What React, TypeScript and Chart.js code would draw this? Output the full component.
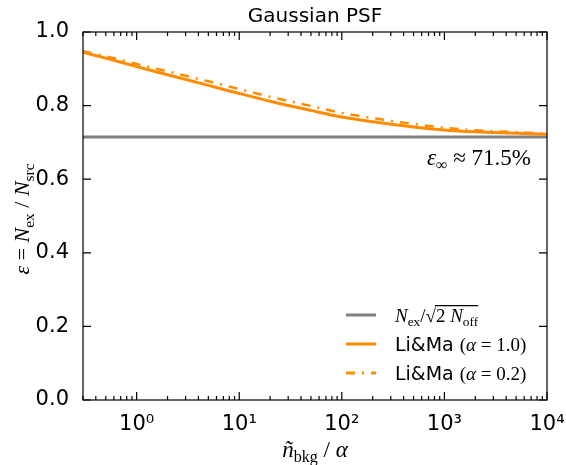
import React, { useEffect, useRef } from "react";
import { Chart, ChartConfiguration, Plugin, registerables } from "chart.js";
Chart.register(...registerables);

// n_bkg / alpha sample points and the two Li&Ma efficiency curves
const bkgRatio = [0.3, 0.5, 1, 2, 5, 10, 20, 50, 100, 200, 500, 1000, 2000, 5000, 10000];
const liMaAlpha10 = [0.945, 0.929, 0.906, 0.884, 0.855, 0.833, 0.812, 0.787, 0.769, 0.756, 0.742, 0.734, 0.729, 0.725, 0.722];
const liMaAlpha02 = [0.948, 0.934, 0.913, 0.893, 0.866, 0.845, 0.824, 0.799, 0.780, 0.766, 0.750, 0.740, 0.733, 0.728, 0.724];
// asymptotic N_ex / sqrt(2 N_off) level
const asymptoteX = [0.3, 10000];
const asymptoteY = [0.715, 0.715];

const yTicks = [0, 0.2, 0.4, 0.6, 0.8, 1.0];
const xDecades = [1, 10, 100, 1000, 10000];
const xDecadeLabels = ["10⁰", "10¹", "10²", "10³", "10⁴"];

const ORANGE = "#ff8c00";
const GRAY = "#808080";
const SERIF = '"Liberation Serif", serif';
const SANS = '"DejaVu Sans", sans-serif';

type Seg = { t: string; it?: boolean; sub?: boolean; sans?: boolean; over?: boolean };

function drawRich(
  ctx: CanvasRenderingContext2D,
  segs: Seg[],
  x: number,
  y: number,
  size: number,
  align: "left" | "center" | "right"
) {
  const fontOf = (s: Seg) =>
    `${s.it ? "italic " : ""}${s.sub ? size * 0.7 : size}px ${s.sans ? SANS : SERIF}`;
  let total = 0;
  const widths = segs.map((s) => {
    ctx.font = fontOf(s);
    const w = ctx.measureText(s.t).width;
    total += w;
    return w;
  });
  let cx = align === "left" ? x : align === "center" ? x - total / 2 : x - total;
  let overStart: number | null = null;
  let overEnd = 0;
  ctx.textBaseline = "alphabetic";
  ctx.textAlign = "left";
  segs.forEach((s, i) => {
    ctx.font = fontOf(s);
    ctx.fillText(s.t, cx, y + (s.sub ? size * 0.22 : 0));
    if (s.over) {
      if (overStart === null) overStart = cx;
      overEnd = cx + widths[i];
    }
    cx += widths[i];
  });
  if (overStart !== null) {
    ctx.save();
    ctx.lineWidth = 1.2;
    ctx.beginPath();
    ctx.moveTo(overStart - 1, y - size * 0.86);
    ctx.lineTo(overEnd, y - size * 0.86);
    ctx.stroke();
    ctx.restore();
  }
}

const legendEntries: { segs: Seg[]; color: string; dash: number[] }[] = [
  {
    segs: [
      { t: "N", it: true },
      { t: "ex", sub: true },
      { t: "/" },
      { t: "√" },
      { t: "2 ", over: true },
      { t: "N", it: true, over: true },
      { t: "off", sub: true, over: true },
    ],
    color: GRAY,
    dash: [],
  },
  {
    segs: [{ t: "Li&Ma ", sans: true }, { t: "(" }, { t: "α", it: true }, { t: " = 1.0)" }],
    color: ORANGE,
    dash: [],
  },
  {
    segs: [{ t: "Li&Ma ", sans: true }, { t: "(" }, { t: "α", it: true }, { t: " = 0.2)" }],
    color: ORANGE,
    dash: [9, 7, 2, 7],
  },
];

const decorations: Plugin = {
  id: "decorations",
  afterDraw(chart) {
    const { ctx, chartArea: a } = chart;
    const xs = chart.scales.x;
    const ys = chart.scales.y;
    ctx.save();
    ctx.strokeStyle = "#000";
    ctx.fillStyle = "#000";
    ctx.lineWidth = 1.2;
    ctx.strokeRect(a.left, a.top, a.right - a.left, a.bottom - a.top);

    // inward ticks on all four sides
    ctx.beginPath();
    xs.ticks.forEach((t) => {
      const px = xs.getPixelForValue(t.value);
      const major = Math.abs(Math.log10(t.value) - Math.round(Math.log10(t.value))) < 1e-9;
      const len = major ? 8 : 4;
      ctx.moveTo(px, a.bottom);
      ctx.lineTo(px, a.bottom - len);
      ctx.moveTo(px, a.top);
      ctx.lineTo(px, a.top + len);
    });
    ys.ticks.forEach((t) => {
      const py = ys.getPixelForValue(t.value);
      ctx.moveTo(a.left, py);
      ctx.lineTo(a.left + 8, py);
      ctx.moveTo(a.right, py);
      ctx.lineTo(a.right - 8, py);
    });
    ctx.stroke();

    // title
    ctx.font = `20px ${SANS}`;
    ctx.textAlign = "center";
    ctx.textBaseline = "alphabetic";
    ctx.fillText("Gaussian PSF", (a.left + a.right) / 2, 22);

    // axis titles
    ctx.save();
    ctx.translate(22, (a.top + a.bottom) / 2 + 3);
    ctx.rotate(-Math.PI / 2);
    drawRich(
      ctx,
      [
        { t: "ε", it: true },
        { t: " = " },
        { t: "N", it: true },
        { t: "ex", sub: true },
        { t: " / " },
        { t: "N", it: true },
        { t: "src", sub: true },
      ],
      0,
      7,
      22,
      "center"
    );
    ctx.restore();
    drawRich(
      ctx,
      [{ t: "ñ", it: true }, { t: "bkg", sub: true }, { t: " / " }, { t: "α", it: true }],
      (a.left + a.right) / 2,
      457,
      23,
      "center"
    );

    // asymptote annotation
    drawRich(
      ctx,
      [{ t: "ε", it: true }, { t: "∞", sub: true }, { t: " ≈ " }, { t: "71.5%" }],
      a.right - 16,
      ys.getPixelForValue(0.715) + 28,
      23,
      "right"
    );

    // legend
    const rows = [315, 344, 373];
    legendEntries.forEach((e, i) => {
      ctx.save();
      ctx.strokeStyle = e.color;
      ctx.lineWidth = 3;
      ctx.setLineDash(e.dash);
      ctx.beginPath();
      ctx.moveTo(346, rows[i]);
      ctx.lineTo(376, rows[i]);
      ctx.stroke();
      ctx.restore();
      drawRich(ctx, e.segs, 395, rows[i] + 7, 19, "left");
    });
    ctx.restore();
  },
};

const xTickValues: number[] = [0.3, 0.4, 0.5, 0.6, 0.7, 0.8, 0.9];
xDecades.forEach((d) => {
  for (let k = 1; k <= 9; k++) if (d * k <= 10000) xTickValues.push(d * k);
});

export default function App() {
  const canvasRef = useRef<HTMLCanvasElement>(null);
  const chartRef = useRef<Chart | null>(null);

  useEffect(() => {
    if (!canvasRef.current) return;
    if (chartRef.current) chartRef.current.destroy();
    const ctx = canvasRef.current.getContext("2d");
    if (!ctx) return;

    const config: ChartConfiguration<"line"> = {
      type: "line",
      data: {
        datasets: [
          {
            label: "N_ex/sqrt(2 N_off)",
            data: asymptoteX.map((x, i) => ({ x, y: asymptoteY[i] })),
            borderColor: GRAY,
            borderWidth: 3,
            pointRadius: 0,
            order: 3,
          },
          {
            label: "Li&Ma (α = 1.0)",
            data: bkgRatio.map((x, i) => ({ x, y: liMaAlpha10[i] })),
            borderColor: ORANGE,
            borderWidth: 3,
            pointRadius: 0,
            cubicInterpolationMode: "monotone",
            order: 2,
          },
          {
            label: "Li&Ma (α = 0.2)",
            data: bkgRatio.map((x, i) => ({ x, y: liMaAlpha02[i] })),
            borderColor: ORANGE,
            borderWidth: 2.5,
            borderDash: [9, 7, 2, 7],
            pointRadius: 0,
            cubicInterpolationMode: "monotone",
            order: 1,
          },
        ],
      },
      options: {
        animation: false,
        responsive: true,
        maintainAspectRatio: false,
        layout: { padding: { left: 0, right: 19, top: 32, bottom: 0 } },
        plugins: {
          legend: { display: false },
          tooltip: { enabled: false },
          title: { display: false },
        },
        scales: {
          x: {
            type: "logarithmic",
            min: 0.3,
            max: 10000,
            grid: { display: false },
            border: { display: false },
            afterBuildTicks: (scale) => {
              scale.ticks = xTickValues.map((value) => ({ value }));
            },
            afterFit: (scale) => {
              scale.height = 65;
              scale.paddingLeft = 0;
              scale.paddingRight = 0;
            },
            ticks: {
              autoSkip: false,
              maxRotation: 0,
              padding: 4,
              color: "#000",
              font: { family: SANS, size: 21 },
              callback: (value) => {
                const idx = xDecades.indexOf(Number(value));
                return idx >= 0 ? xDecadeLabels[idx] : "";
              },
            },
          },
          y: {
            type: "linear",
            min: 0,
            max: 1,
            grid: { display: false },
            border: { display: false },
            afterBuildTicks: (scale) => {
              scale.ticks = yTicks.map((value) => ({ value }));
            },
            afterFit: (scale) => {
              scale.width = 83;
              scale.paddingTop = 0;
              scale.paddingBottom = 0;
            },
            ticks: {
              padding: 6,
              color: "#000",
              font: { family: SANS, size: 21 },
              callback: (value) => Number(value).toFixed(1),
            },
          },
        },
      },
      plugins: [decorations],
    };

    chartRef.current = new Chart(ctx, config);
    return () => {
      if (chartRef.current) {
        chartRef.current.destroy();
        chartRef.current = null;
      }
    };
  }, []);

  return (
    <div style={{ position: "fixed", left: 0, top: 0, width: 566, height: 465, background: "#fff" }}>
      <canvas ref={canvasRef} />
    </div>
  );
}
